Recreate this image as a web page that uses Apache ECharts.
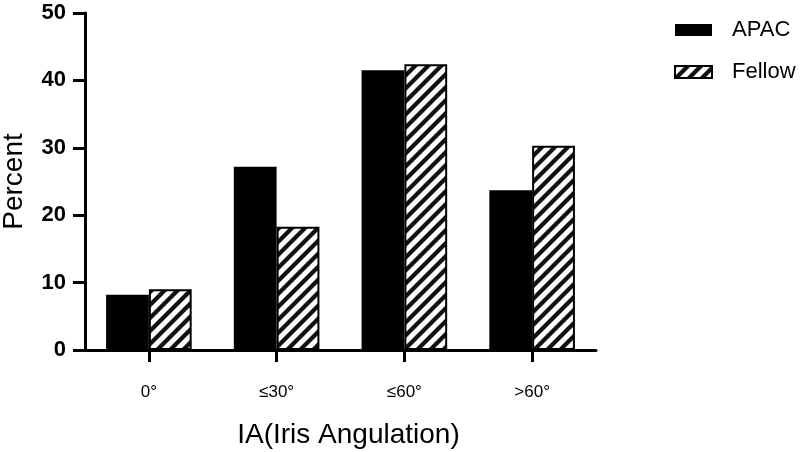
<!DOCTYPE html>
<html><head><meta charset="utf-8">
<script src="https://cdn.jsdelivr.net/npm/echarts@6/dist/echarts.min.js"></script>
<style>html,body{margin:0;padding:0;background:#fff}#c{width:800px;height:452px}</style>
</head><body><div id="c"></div>
<script>
var categories = ['0°', '≤30°', '≤60°', '>60°'];
var apac = [8.2, 27.2, 41.5, 23.7];
var fellow = [9.0, 18.3, 42.4, 30.3];
var yTicks = [0, 10, 20, 30, 40, 50];

function stripePattern() {
  var s = 13;
  var c = document.createElement('canvas');
  c.width = s; c.height = s;
  var ctx = c.getContext('2d');
  ctx.fillStyle = '#fff';
  ctx.fillRect(0, 0, s, s);
  ctx.strokeStyle = '#111';
  ctx.lineWidth = 4.2;
  ctx.lineCap = 'square';
  for (var k = -1; k <= 1; k++) {
    ctx.beginPath();
    ctx.moveTo(k * s, s);
    ctx.lineTo(k * s + s, 0);
    ctx.stroke();
  }
  return c;
}
var pattern = { image: stripePattern(), repeat: 'repeat' };

var chart = echarts.init(document.getElementById('c'));
chart.setOption({
  animation: false,
  backgroundColor: '#fff',
  textStyle: { fontFamily: 'Liberation Sans', color: '#000' },
  grid: { left: 85, top: 13, right: 204, bottom: 102, containLabel: false, outerBoundsMode: 'none' },
  legend: {
    left: 669, top: 14, orient: 'vertical', itemGap: 20,
    itemWidth: 37, itemHeight: 12,
    textStyle: { fontSize: 22, lineHeight: 22, color: '#000', padding: [0, 0, 0, 15] },
    data: [
      { name: 'APAC', icon: 'rect' },
      { name: 'Fellow', icon: 'rect', itemStyle: { color: pattern, borderColor: '#000', borderWidth: 2 } }
    ]
  },
  xAxis: {
    type: 'category', data: categories,
    name: 'IA(Iris Angulation)', nameLocation: 'middle', nameGap: 71,
    nameTextStyle: { fontSize: 28, color: '#000', padding: [0, 0, 0, 16] },
    axisLine: { lineStyle: { color: '#000', width: 3 } },
    axisTick: { show: true, alignWithLabel: true, length: 12, lineStyle: { color: '#000', width: 3 } },
    axisLabel: { fontSize: 17, color: '#000', margin: 34 }
  },
  yAxis: {
    type: 'value', min: 0, max: 50, interval: 10,
    name: 'Percent', nameLocation: 'middle', nameGap: 57,
    nameTextStyle: { fontSize: 28, color: '#000' },
    splitLine: { show: false },
    axisLine: { show: true, lineStyle: { color: '#000', width: 3 } },
    axisTick: { show: true, length: 12, lineStyle: { color: '#000', width: 3 } },
    axisLabel: { fontSize: 22, fontWeight: 'bold', color: '#000', margin: 19,
      formatter: function (v) { return yTicks.indexOf(v) >= 0 ? String(v) : ''; } }
  },
  series: [
    { name: 'APAC', type: 'bar', data: apac, barGap: '0%', barCategoryGap: '33%',
      itemStyle: { color: '#000' } },
    { name: 'Fellow', type: 'bar', data: fellow, barGap: '0%', barCategoryGap: '33%',
      itemStyle: { color: pattern, borderColor: '#000', borderWidth: 2 } }
  ]
});
</script></body></html>
